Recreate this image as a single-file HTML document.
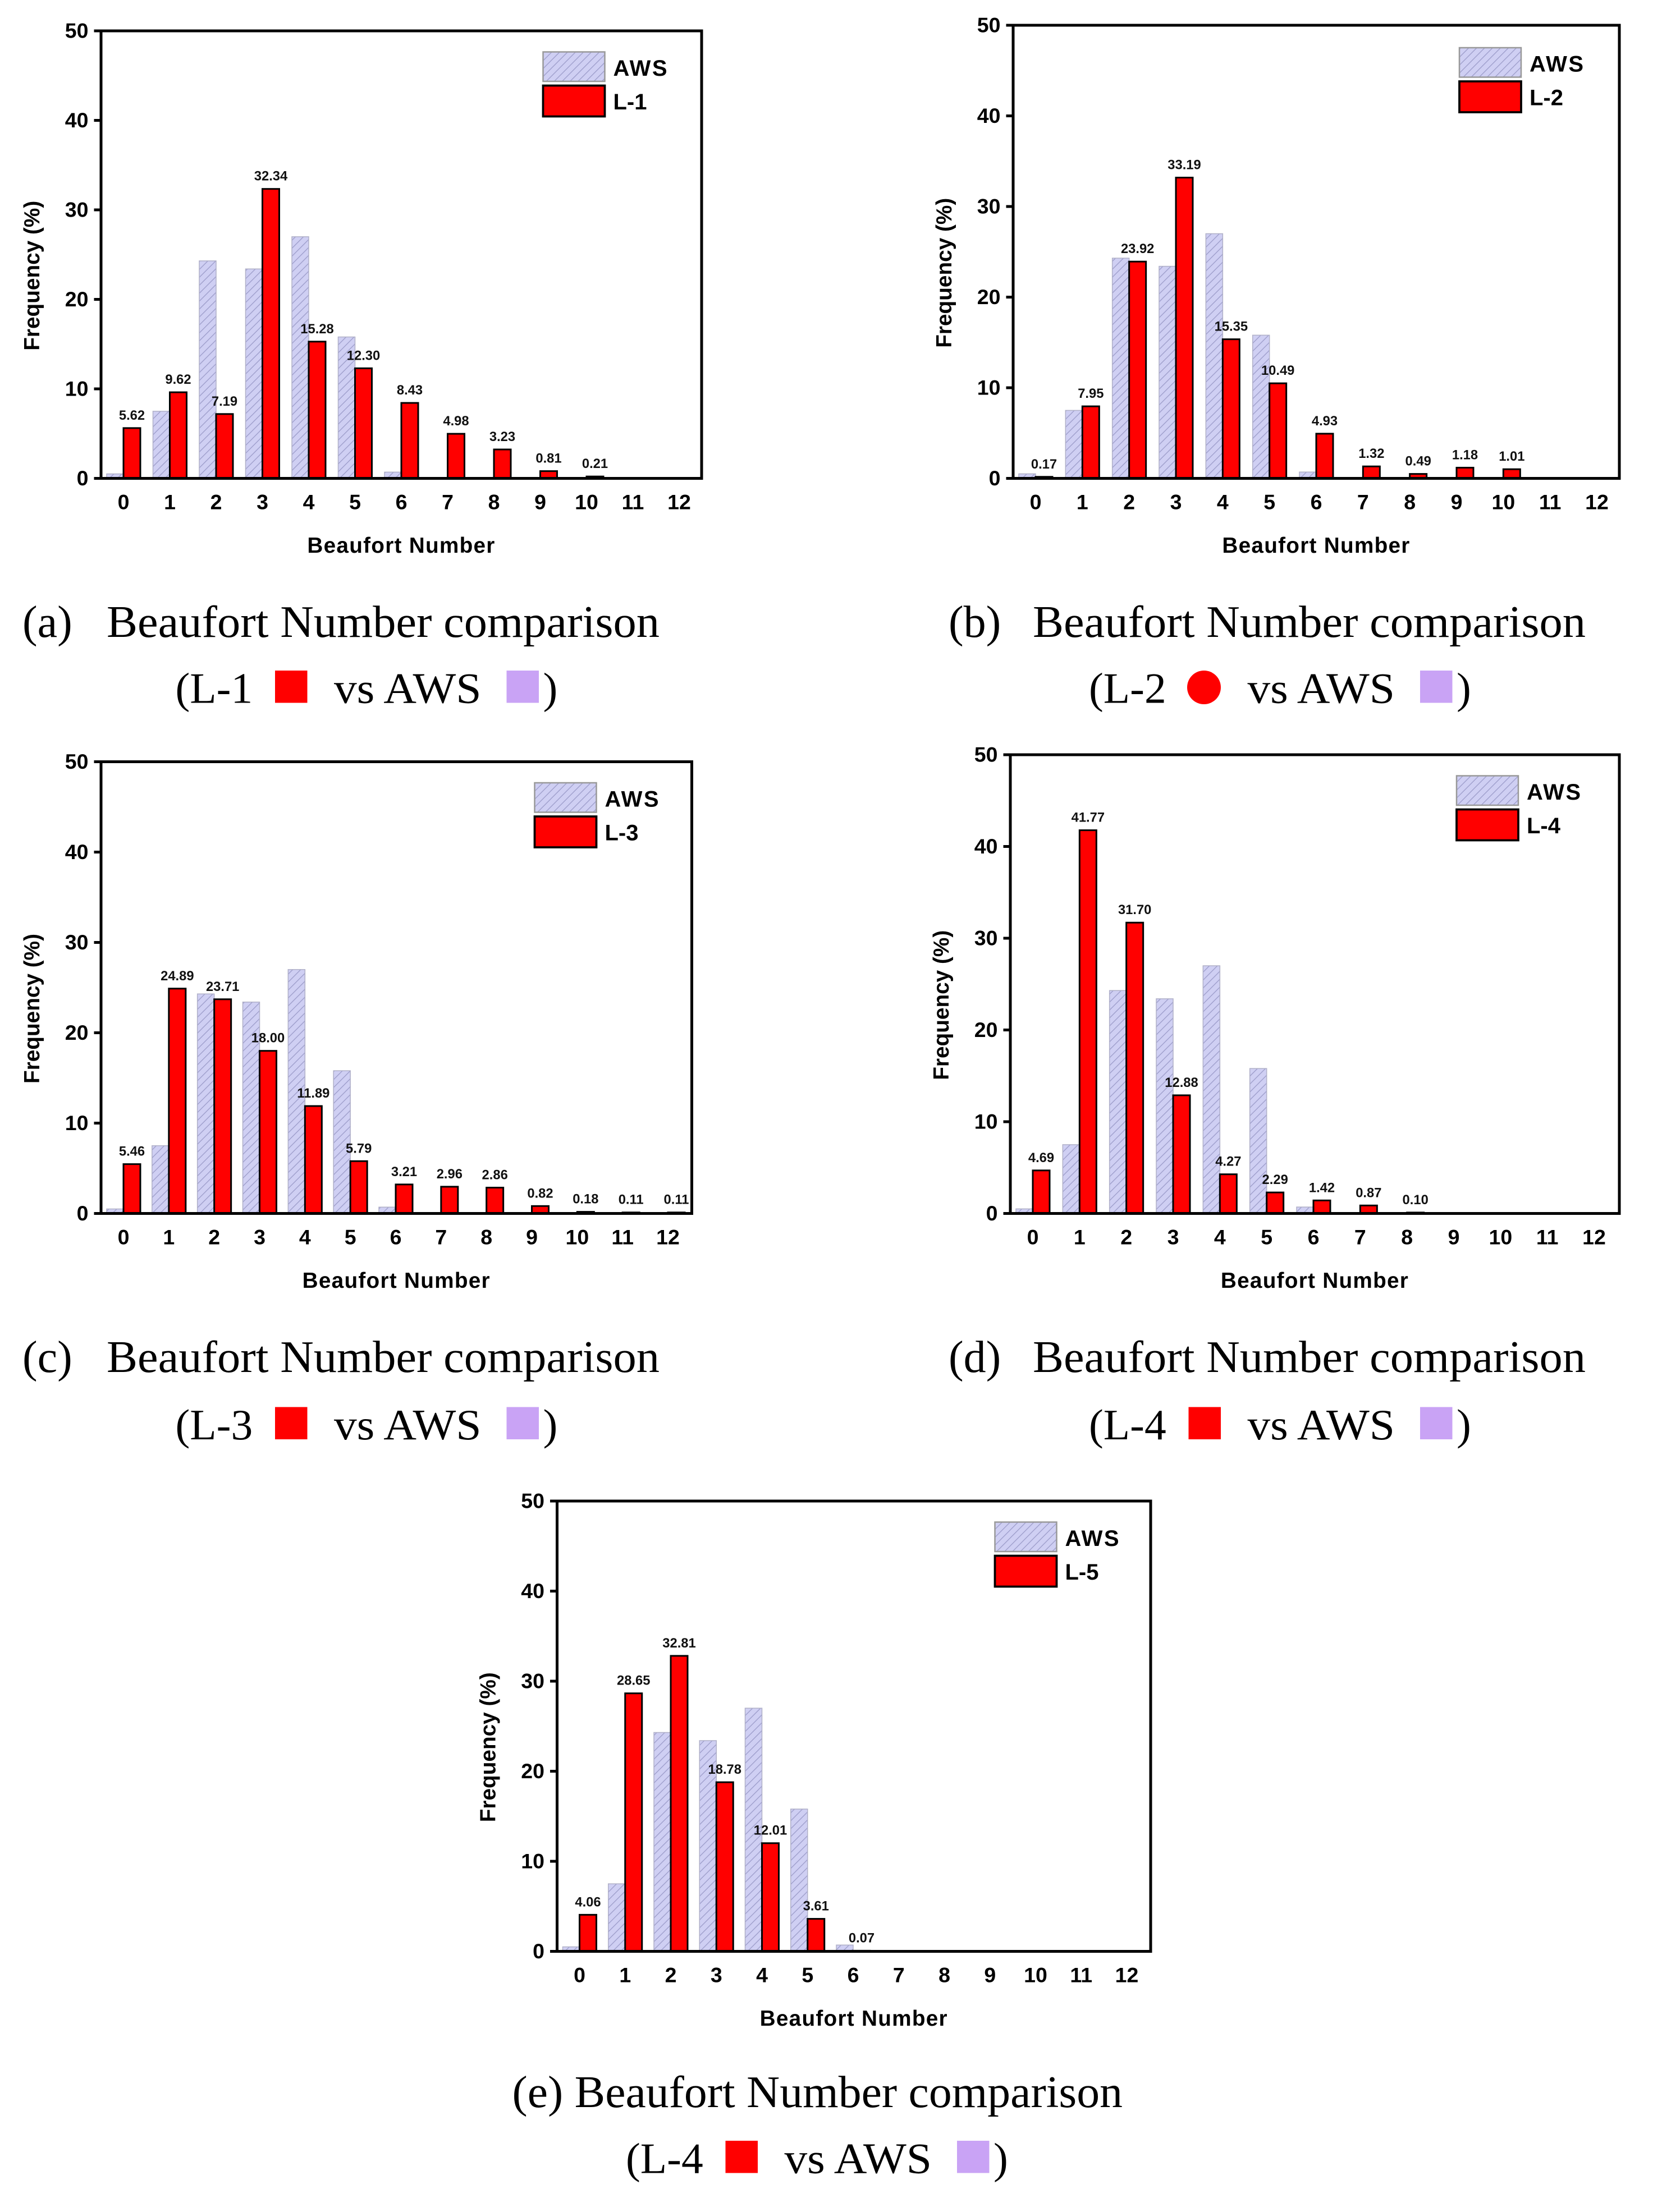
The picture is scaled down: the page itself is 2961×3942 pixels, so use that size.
<!DOCTYPE html>
<html><head><meta charset="utf-8"><style>
html,body{margin:0;padding:0;background:#fff}
svg{display:block}
</style></head><body>
<svg id="fig" width="2961" height="3942" viewBox="0 0 1184.4 1576.8" xmlns="http://www.w3.org/2000/svg">
<defs>
<pattern id="hatch" patternUnits="userSpaceOnUse" width="4" height="4" patternTransform="rotate(45)">
<rect width="4" height="4" fill="#cfcff3"/><line x1="0" y1="0" x2="0" y2="4" stroke="#9a9ac8" stroke-width="1"/>
</pattern>
</defs>
</svg>
<script>
const categories = [0,1,2,3,4,5,6,7,8,9,10,11,12];
const yTicks = [0,10,20,30,40,50];
const awsValues = [0.5,7.5,24.3,23.4,27.0,15.8,0.7,0,0,0,0,0,0];
const l1Values = [5.62,9.62,7.19,32.34,15.28,12.30,8.43,4.98,3.23,0.81,0.21,0,0];
const l1Labels = ["5.62","9.62","7.19","32.34","15.28","12.30","8.43","4.98","3.23","0.81","0.21","",""];
const l2Values = [0.17,7.95,23.92,33.19,15.35,10.49,4.93,1.32,0.49,1.18,1.01,0,0];
const l2Labels = ["0.17","7.95","23.92","33.19","15.35","10.49","4.93","1.32","0.49","1.18","1.01","",""];
const l3Values = [5.46,24.89,23.71,18.00,11.89,5.79,3.21,2.96,2.86,0.82,0.18,0.11,0.11];
const l3Labels = ["5.46","24.89","23.71","18.00","11.89","5.79","3.21","2.96","2.86","0.82","0.18","0.11","0.11"];
const l4Values = [4.69,41.77,31.70,12.88,4.27,2.29,1.42,0.87,0.10,0,0,0,0];
const l4Labels = ["4.69","41.77","31.70","12.88","4.27","2.29","1.42","0.87","0.10","","","",""];
const l5Values = [4.06,28.65,32.81,18.78,12.01,3.61,0.07,0,0,0,0,0,0];
const l5Labels = ["4.06","28.65","32.81","18.78","12.01","3.61","0.07","","","","","",""];

const NS="http://www.w3.org/2000/svg";
const svg=document.getElementById('fig');
function mk(tag,attrs,parent,text){const e=document.createElementNS(NS,tag);for(const k in attrs)e.setAttribute(k,attrs[k]);if(text!==undefined)e.textContent=text;(parent||svg).appendChild(e);return e;}

const panels=[
 {id:'a',name:'L-1',vals:l1Values,labels:l1Labels,x0:72,x1:500,y0:22,y1:341,c0:88,c12:484,leg:[387,37],cap:[16,443],cap2:[125,490],shape:'sq'},
 {id:'b',name:'L-2',vals:l2Values,labels:l2Labels,x0:722,x1:1154,y0:18,y1:341,c0:738,c12:1138,leg:[1040,34],cap:[676,443],cap2:[776,490],shape:'circle'},
 {id:'c',name:'L-3',vals:l3Values,labels:l3Labels,x0:72,x1:493,y0:543,y1:865,c0:88,c12:476,leg:[381,558],cap:[16,967],cap2:[125,1015],shape:'sq'},
 {id:'d',name:'L-4',vals:l4Values,labels:l4Labels,x0:720,x1:1154,y0:538,y1:865,c0:736,c12:1136,leg:[1038,553],cap:[676,967],cap2:[776,1015],shape:'sq'},
 {id:'e',name:'L-5',vals:l5Values,labels:l5Labels,x0:397,x1:820,y0:1070,y1:1391,c0:413,c12:803,leg:[709,1085],cap:[365,1491],cap2:[446,1538],shape:'sq',capTight:true,capName:'L-4'}
];

panels.forEach(p=>{
 const g=mk('g',{});
 
 
 const ys=v=>p.y1-(v/50)*(p.y1-p.y0);
 const xs=c=>p.c0+(c/12)*(p.c12-p.c0);
 const bw=12;
 categories.forEach((c,i)=>{
  const a=awsValues[i];
  if(a>0){const r=mk('rect',{x:xs(c)-bw,y:ys(a),width:bw,height:ys(0)-ys(a),fill:'url(#hatch)',stroke:'#b0b0c8','stroke-width':0.6},g);
   }
  const v=p.vals[i];
  if(v>0){const r=mk('rect',{x:xs(c),y:ys(v),width:bw,height:ys(0)-ys(v),fill:'#ff0000',stroke:'#000','stroke-width':1.2},g);
   }
  if(p.labels[i]){const t=mk('text',{x:xs(c)+bw/2,y:ys(v)-6,'font-family':'Liberation Sans, sans-serif','font-size':9.5,'font-weight':'bold','text-anchor':'middle',fill:'#111'},g,p.labels[i]);
   }
 });
 const f=mk('rect',{x:p.x0,y:p.y0,width:p.x1-p.x0,height:p.y1-p.y0,fill:'none',stroke:'#000','stroke-width':2},g);
 
 yTicks.forEach(t=>{
  mk('line',{x1:p.x0-5,x2:p.x0,y1:ys(t),y2:ys(t),stroke:'#000','stroke-width':2},g);
  const tl=mk('text',{x:p.x0-9,y:ys(t)+5,'font-family':'Liberation Sans, sans-serif','font-size':15,'font-weight':'bold','text-anchor':'end'},g,String(t));
  
 });
 categories.forEach(c=>{
  const tl=mk('text',{x:xs(c),y:p.y1+22,'font-family':'Liberation Sans, sans-serif','font-size':15,'font-weight':'bold','text-anchor':'middle'},g,String(c));
  
 });
 const xl=mk('text',{x:(p.x0+p.x1)/2,y:p.y1+53,'font-family':'Liberation Sans, sans-serif','font-size':15.5,'font-weight':'bold','text-anchor':'middle','letter-spacing':'0.5'},g,'Beaufort Number');
 
 const cy=(p.y0+p.y1)/2+15;
 const yl=mk('text',{x:p.x0-44,y:cy,'font-family':'Liberation Sans, sans-serif','font-size':15.5,'font-weight':'bold','text-anchor':'middle',transform:`rotate(-90 ${p.x0-44} ${cy})`},g,'Frequency (%)');
 
 const [lx,ly]=p.leg;
 const l1=mk('rect',{x:lx,y:ly,width:44,height:21,fill:'url(#hatch)',stroke:'#999','stroke-width':1},g);
 
 const lt1=mk('text',{x:lx+50,y:ly+17,'font-family':'Liberation Sans, sans-serif','font-size':16,'font-weight':'bold','letter-spacing':'1'},g,'AWS');
 
 const l2=mk('rect',{x:lx,y:ly+24,width:44,height:22,fill:'#ff0000',stroke:'#000','stroke-width':1.5},g);
 
 const lt2=mk('text',{x:lx+50,y:ly+41,'font-family':'Liberation Sans, sans-serif','font-size':16,'font-weight':'bold'},g,p.name);
 
 // captions
 const capY=p.cap[1]+11;
 if(p.capTight){
  const c1=mk('text',{x:p.cap[0],y:capY,'font-family':'Liberation Serif, serif','font-size':32,textLength:435,lengthAdjust:'spacingAndGlyphs'},g,'(e) Beaufort Number comparison');
  
 } else {
  const c0=mk('text',{x:p.cap[0],y:capY,'font-family':'Liberation Serif, serif','font-size':32},g,'('+p.id+')');
  
  const c1=mk('text',{x:p.cap[0]+60,y:capY,'font-family':'Liberation Serif, serif','font-size':32,textLength:394,lengthAdjust:'spacingAndGlyphs'},g,'Beaufort Number comparison');
  
 }
 const cx=p.cap2[0], cyy=p.cap2[1]+11;
 const c2=mk('text',{x:cx,y:cyy,'font-family':'Liberation Serif, serif','font-size':31},g);
 
 c2.textContent='('+(p.capName||p.name);
 mk('text',{x:cx+113,y:cyy,'font-family':'Liberation Serif, serif','font-size':31,textLength:105,lengthAdjust:'spacingAndGlyphs'},g,'vs AWS');
 mk('text',{x:cx+262,y:cyy,'font-family':'Liberation Serif, serif','font-size':31},g,')');
 if(p.shape==='circle'){const s=mk('circle',{cx:cx+82,cy:cyy-11,r:12,fill:'#ff0000'},g);}
 else{const s=mk('rect',{x:cx+71,y:cyy-23,width:23,height:23,fill:'#ff0000'},g);}
 const s2=mk('rect',{x:cx+236,y:cyy-23,width:23,height:23,fill:'#c9a3f5'},g);
 
});
</script>
</body></html>
